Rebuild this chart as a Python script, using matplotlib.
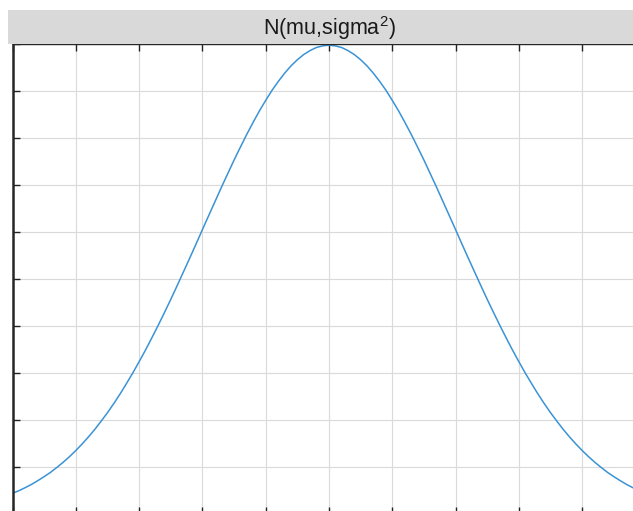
import numpy as np
import matplotlib.pyplot as plt
from matplotlib.patches import Rectangle

plt.rcParams['font.family'] = ['Liberation Sans', 'DejaVu Sans']
plt.rcParams['mathtext.fontset'] = 'custom'
plt.rcParams['mathtext.rm'] = 'Liberation Sans'

# N(0, 2^2) pdf, x from -5 to 5 step 0.1
x = np.round(np.arange(-5, 5.001, 0.1), 1)
half = [0.0088, 0.0099, 0.0112, 0.0126, 0.0142, 0.0159, 0.0177, 0.0198, 0.0220, 0.0244,
        0.0270, 0.0298, 0.0328, 0.0360, 0.0395, 0.0431, 0.0470, 0.0511, 0.0555, 0.0600,
        0.0648, 0.0697, 0.0749, 0.0802, 0.0857, 0.0913, 0.0971, 0.1030, 0.1089, 0.1149,
        0.1210, 0.1270, 0.1330, 0.1390, 0.1448, 0.1506, 0.1561, 0.1615, 0.1666, 0.1715,
        0.1760, 0.1803, 0.1841, 0.1876, 0.1907, 0.1933, 0.1955, 0.1972, 0.1985, 0.1992]
peak = [0.1995]
y = np.array(half + peak + half[::-1])

W, H = 633, 511
fig = plt.figure(figsize=(W / 100, H / 100), dpi=100)

# axes extend past the right and bottom edges of the picture
left, top, right, bottom = 12.5, 44, 645.5, 514
ax = fig.add_axes([left / W, (H - bottom) / H, (right - left) / W, (bottom - top) / H])

# gray title strip
fig.patches.append(Rectangle((8 / W, (H - 44) / H), (W - 8) / W, 34 / H,
                             transform=fig.transFigure, facecolor='#d9d9d9',
                             edgecolor='none', zorder=0))
fig.text(329 / W, (H - 28) / H, 'N(mu,sigma$^{2}$)', ha='center', va='center',
         fontsize=15.5, color='#1a1a1a')

ax.plot(x, y, color='#3a93d6', lw=1.1)
ax.set_xlim(-5, 5)
ax.set_ylim(0, 0.2)
ax.set_xticks(np.arange(-5, 5.01, 1))
ax.set_yticks(np.arange(0, 0.201, 0.02))
ax.set_xticklabels([])
ax.set_yticklabels([])
ax.tick_params(direction='in', length=5, width=1, top=True, right=True, color='#222222')
ax.grid(True, color='#dadada', lw=0.8)
ax.set_axisbelow(True)
for s in ax.spines.values():
    s.set_color('#262626')
    s.set_linewidth(1.0)
ax.spines['left'].set_linewidth(1.8)

fig.savefig('out.png', dpi=100)
